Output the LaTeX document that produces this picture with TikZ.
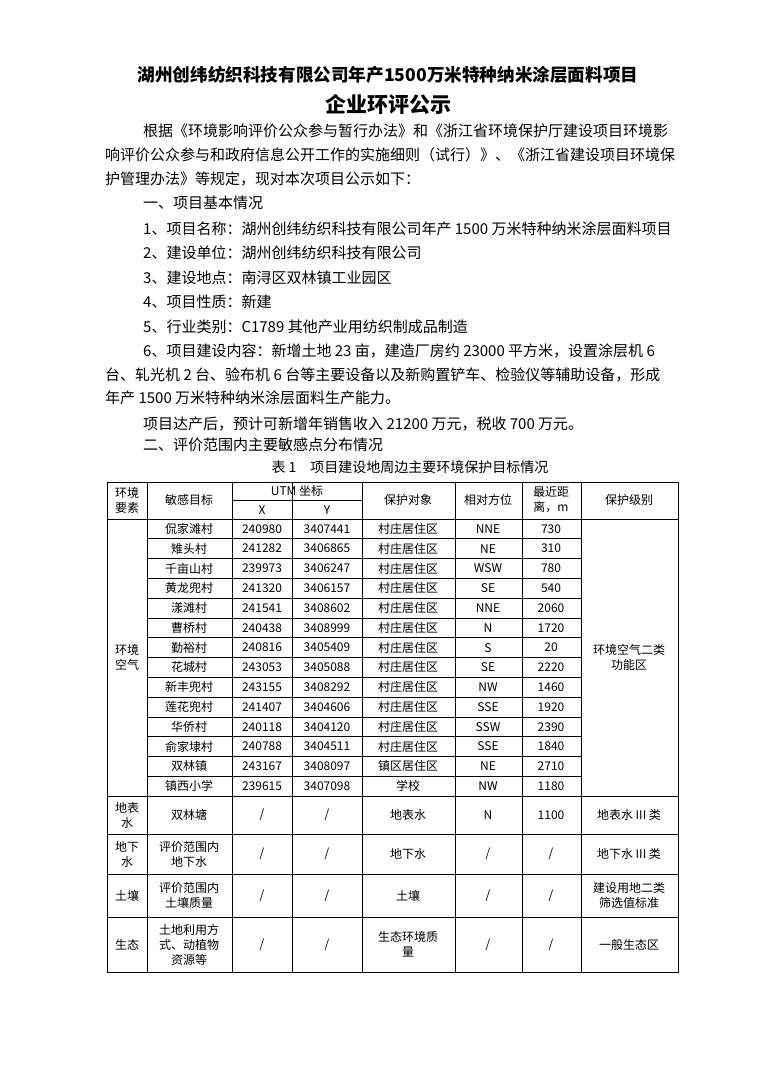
\documentclass[tikz,border=0pt]{standalone}
\usepackage{fontspec}
\setmainfont{Noto Sans CJK SC}
\begin{document}
\begin{tikzpicture}[x=1pt,y=-1pt,
  body/.style={anchor=west,inner sep=0pt,font=\fontsize{15}{16}\selectfont},
  cell/.style={inner sep=0pt,align=center,font=\fontsize{12}{15}\selectfont},
  grid/.style={line width=0.7pt}]
\useasboundingbox (0,0) rectangle (763,1080);
\fill[white] (0,0) rectangle (763,1080);
\node[inner sep=0pt,font=\bfseries\fontsize{17.6}{20}\selectfont] (t1) at (388,75) {湖州创纬纺织科技有限公司年产1500万米特种纳米涂层面料项目};
\node[inner sep=0pt,font=\bfseries\fontsize{21}{24}\selectfont] (t2) at (388,104) {企业环评公示};
\node[body] (l1) at (143,131) {根据《环境影响评价公众参与暂行办法》和《浙江省环境保护厅建设项目环境影};
\node[body] (l2) at (105,155) {响评价公众参与和政府信息公开工作的实施细则（试行）》、《浙江省建设项目环境保};
\node[body] (l3) at (105,179) {护管理办法》等规定，现对本次项目公示如下：};
\node[body] (l4) at (143,203) {一、项目基本情况};
\node[body] (l5) at (143,229) {1、项目名称：湖州创纬纺织科技有限公司年产 1500 万米特种纳米涂层面料项目};
\node[body] (l6) at (143,253) {2、建设单位：湖州创纬纺织科技有限公司};
\node[body] (l7) at (143,278) {3、建设地点：南浔区双林镇工业园区};
\node[body] (l8) at (143,302) {4、项目性质：新建};
\node[body] (l9) at (143,327) {5、行业类别：C1789 其他产业用纺织制成品制造};
\node[body] (l10) at (143,351) {6、项目建设内容：新增土地 23 亩，建造厂房约 23000 平方米，设置涂层机 6};
\node[body] (l11) at (105,375) {台、轧光机 2 台、验布机 6 台等主要设备以及新购置铲车、检验仪等辅助设备，形成};
\node[body] (l12) at (105,398) {年产 1500 万米特种纳米涂层面料生产能力。};
\node[body] (l13) at (143,424) {项目达产后，预计可新增年销售收入 21200 万元，税收 700 万元。};
\node[body] (l14) at (143,445) {二、评价范围内主要敏感点分布情况};
\node[inner sep=0pt,font=\fontsize{14}{16}\selectfont] (cap) at (410,467) {表 1\quad 项目建设地周边主要环境保护目标情况};
% grid
\draw[grid] (107,482) rectangle (678,972);
\foreach \x in {147,232,292,362,455,522,581} \draw[grid] (\x,482) -- (\x,972);
\draw[grid] (232,500) -- (362,500);
\draw[grid] (107,519) -- (678,519);
\foreach \i in {1,...,13} \draw[grid] (147,{519+\i*19.79}) -- (581,{519+\i*19.79});
\draw[grid] (107,796) -- (678,796);
\draw[grid] (107,834) -- (678,834);
\draw[grid] (107,874) -- (678,874);
\draw[grid] (107,917) -- (678,917);
% header
\node[cell] (h1) at (127,500) {环境\\要素};
\node[cell] (h2) at (189,500) {敏感目标};
\node[cell] (h3) at (297,491) {UTM 坐标};
\node[cell] (h3x) at (262,510) {X};
\node[cell] (h3y) at (327,510) {Y};
\node[cell] (h4) at (408,500) {保护对象};
\node[cell] (h5) at (488,500) {相对方位};
\node[cell] (h6) at (551,500) {最近距\\离，m};
\node[cell] (h7) at (629,500) {保护级别};
\newcommand{\trow}[7]{%
  \pgfmathsetmacro{\yy}{519+(#1-0.5)*19.79}
  \node[cell] (n#1) at (189,\yy) {#2};
  \node[cell] (x#1) at (262,\yy) {#3};
  \node[cell] (y#1) at (327,\yy) {#4};
  \node[cell] (o#1) at (408,\yy) {#5};
  \node[cell] (d#1) at (488,\yy) {#6};
  \node[cell] (m#1) at (551,\yy) {#7};}
\trow{1}{侃家滩村}{240980}{3407441}{村庄居住区}{NNE}{730}
\trow{2}{雉头村}{241282}{3406865}{村庄居住区}{NE}{310}
\trow{3}{千亩山村}{239973}{3406247}{村庄居住区}{WSW}{780}
\trow{4}{黄龙兜村}{241320}{3406157}{村庄居住区}{SE}{540}
\trow{5}{漾滩村}{241541}{3408602}{村庄居住区}{NNE}{2060}
\trow{6}{曹桥村}{240438}{3408999}{村庄居住区}{N}{1720}
\trow{7}{勤裕村}{240816}{3405409}{村庄居住区}{S}{20}
\trow{8}{花城村}{243053}{3405088}{村庄居住区}{SE}{2220}
\trow{9}{新丰兜村}{243155}{3408292}{村庄居住区}{NW}{1460}
\trow{10}{莲花兜村}{241407}{3404606}{村庄居住区}{SSE}{1920}
\trow{11}{华侨村}{240118}{3404120}{村庄居住区}{SSW}{2390}
\trow{12}{俞家埭村}{240788}{3404511}{村庄居住区}{SSE}{1840}
\trow{13}{双林镇}{243167}{3408097}{镇区居住区}{NE}{2710}
\trow{14}{镇西小学}{239615}{3407098}{学校}{NW}{1180}
\node[cell] (air) at (127,657) {环境\\空气};
\node[cell] (airl) at (629,657) {环境空气二类\\功能区};
% lower rows
\newcommand{\brow}[8]{%
  \node[cell] (a#1) at (127,#2) {#3};
  \node[cell] (b#1) at (189,#2) {#4};
  \node[cell] (c#1) at (262,#2) {/};
  \node[cell] (e#1) at (327,#2) {/};
  \node[cell] (f#1) at (408,#2) {#5};
  \node[cell] (g#1) at (488,#2) {#6};
  \node[cell] (k#1) at (551,#2) {#7};
  \node[cell] (p#1) at (629,#2) {#8};}
\brow{1}{815}{地表\\水}{双林塘}{地表水}{N}{1100}{地表水 III 类}
\brow{2}{854}{地下\\水}{评价范围内\\地下水}{地下水}{/}{/}{地下水 III 类}
\brow{3}{895.5}{土壤}{评价范围内\\土壤质量}{土壤}{/}{/}{建设用地二类\\筛选值标准}
\brow{4}{944.5}{生态}{土地利用方\\式、动植物\\资源等}{生态环境质\\量}{/}{/}{一般生态区}
\end{tikzpicture}
\end{document}
